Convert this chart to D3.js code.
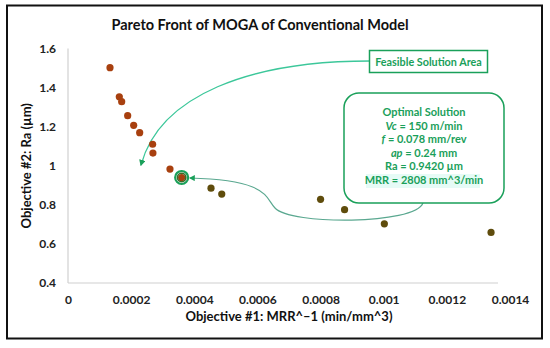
<!DOCTYPE html>
<html>
<head>
<meta charset="utf-8">
<script src="https://cdn.jsdelivr.net/npm/d3@7"></script>
<style>
  body { margin: 0; background: #fff; }
  svg { font-family: Lato, "Open Sans", sans-serif; }
</style>
</head>
<body>
<svg id="chart"></svg>
<script>
// values
const invMRR = [0.000133, 0.0001625, 0.00017, 0.000189, 0.000208, 0.000227, 0.000268, 0.000269, 0.000323, 0.00036, 0.000453, 0.000487, 0.0008, 0.000876, 0.001002, 0.00134];
const raVals = [1.502, 1.353, 1.328, 1.256, 1.207, 1.169, 1.11, 1.065, 0.983, 0.94, 0.885, 0.855, 0.828, 0.775, 0.703, 0.659];
const groups = ["a", "a", "a", "a", "a", "a", "a", "a", "a", "opt", "b", "b", "b", "b", "b", "b"];
const xTicks = [0, 0.0002, 0.0004, 0.0006, 0.0008, 0.001, 0.0012, 0.0014];
const yTicks = [0.4, 0.6, 0.8, 1, 1.2, 1.4, 1.6];
const optLines = ["Optimal Solution", "Vc = 150 m/min", "f = 0.078 mm/rev", "ap = 0.24 mm", "Ra = 0.9420 µm", "MRR = 2808 mm^3/min"];

const width = 550, height = 348;
const plotLeft = 68, plotRight = 510, plotTop = 48.5, plotBottom = 283;
const green = "#1aa05a";

const svg = d3.select("#chart").attr("width", width).attr("height", height);

// outer frame
svg.append("rect")
  .attr("x", 7).attr("y", 5.5).attr("width", 535).attr("height", 333)
  .attr("fill", "none").attr("stroke", "#111").attr("stroke-width", 2);

let x = d3.scaleLinear().domain([0, 0.0014]).range([plotLeft, plotRight]);
let y = d3.scaleLinear().domain([0.4, 1.6]).range([plotBottom, plotTop]);

// axes
let xAxis = d3.axisBottom(x).tickValues(xTicks).tickSize(0).tickPadding(12)
  .tickFormat((d) => d === 0 ? "0" : +d.toFixed(4) + "");
let yAxis = d3.axisLeft(y).tickValues(yTicks).tickSize(0).tickPadding(12)
  .tickFormat((d) => d + "");

let gx = svg.append("g").attr("transform", "translate(0," + plotBottom + ")").call(xAxis);
let gy = svg.append("g").attr("transform", "translate(" + plotLeft + ",0)").call(yAxis);
[gx, gy].forEach((g) => {
  g.select(".domain").attr("stroke", "#d0d0d0").attr("stroke-width", 1.2);
  g.selectAll("text").attr("fill", "#222").attr("font-size", 12).attr("font-weight", "bold")
    .attr("font-family", "Lato, sans-serif");
});
gy.select(".domain").attr("d", "M0," + plotTop + "V" + plotBottom);
gx.select(".domain").attr("d", "M" + plotLeft + ",0H" + (plotRight - 12));

// title and axis labels
svg.append("text")
  .attr("x", 260).attr("y", 30).attr("text-anchor", "middle")
  .attr("font-size", 14.5).attr("font-weight", "bold").attr("fill", "#111")
  .text("Pareto Front of MOGA of Conventional Model");

svg.append("text")
  .attr("x", (plotLeft + plotRight) / 2).attr("y", 321).attr("text-anchor", "middle")
  .attr("font-size", 13).attr("font-weight", "bold").attr("fill", "#111")
  .text("Objective #1: MRR^\u20131 (min/mm^3)");

svg.append("text")
  .attr("transform", "translate(31," + ((plotTop + plotBottom) / 2) + ") rotate(-90)")
  .attr("text-anchor", "middle")
  .attr("font-size", 13).attr("font-weight", "bold").attr("fill", "#111")
  .text("Objective #2: Ra (µm)");

// arrows
let defs = svg.append("defs");
defs.append("marker").attr("id", "arr").attr("viewBox", "0 0 10 10")
  .attr("refX", 8).attr("refY", 5).attr("markerWidth", 5).attr("markerHeight", 5)
  .attr("orient", "auto")
  .append("path").attr("d", "M0,0L10,5L0,10Z").attr("fill", green);

svg.append("path")
  .attr("d", "M370,61 C250,61 160,95 141,165")
  .attr("fill", "none").attr("stroke", "#3cc79a").attr("stroke-width", 1.3)
  .attr("marker-end", "url(#arr)");

svg.append("path")
  .attr("d", "M423,203 C415,225 290,225 275,208 C265,198 270,180 190,178")
  .attr("fill", "none").attr("stroke", "#5aa890").attr("stroke-width", 1.2)
  .attr("marker-end", "url(#arr)");

// feasible box
svg.append("rect")
  .attr("x", 369.5).attr("y", 50.5).attr("width", 118).attr("height", 22)
  .attr("fill", "#fff").attr("stroke", green).attr("stroke-width", 1.5);
svg.append("text")
  .attr("x", 428.5).attr("y", 65.5).attr("text-anchor", "middle")
  .attr("font-size", 10.8).attr("font-weight", "bold").attr("fill", green)
  .text("Feasible Solution Area");

// optimal solution box
svg.append("rect")
  .attr("x", 344).attr("y", 93).attr("width", 160).attr("height", 110).attr("rx", 15)
  .attr("fill", "#fff").attr("stroke", green).attr("stroke-width", 1.5);
svg.append("rect")
  .attr("x", 366).attr("y", 174).attr("width", 114).attr("height", 14)
  .attr("fill", "#e6fbf6");

let italics = { 1: "Vc", 2: "f", 3: "ap" };
optLines.forEach((line, i) => {
  let t = svg.append("text")
    .attr("x", 424).attr("y", 116 + i * 13.5).attr("text-anchor", "middle")
    .attr("font-size", 11).attr("font-weight", "bold").attr("fill", green);
  let it = italics[i];
  if (it) {
    t.append("tspan").attr("font-style", "italic").text(it);
    t.append("tspan").text(line.slice(it.length));
  } else {
    t.text(line);
  }
});

// points
let data = invMRR.map((v, i) => ({ x: v, y: raVals[i], g: groups[i] }));
let colors = { a: "#a8400f", b: "#5f4c0c", opt: "#a8400f" };

svg.selectAll(".dot")
  .data(data)
  .enter()
  .append("circle")
  .attr("class", "dot")
  .attr("cx", (d) => x(d.x))
  .attr("cy", (d) => y(d.y))
  .attr("r", 3.6)
  .attr("fill", (d) => colors[d.g]);

let opt = data.filter((d) => d.g === "opt");
svg.selectAll(".ring")
  .data(opt)
  .enter()
  .append("circle")
  .attr("cx", (d) => x(d.x))
  .attr("cy", (d) => y(d.y))
  .attr("r", 6.5)
  .attr("fill", "none")
  .attr("stroke", green)
  .attr("stroke-width", 2.2);
svg.selectAll(".inner")
  .data(opt)
  .enter()
  .append("circle")
  .attr("cx", (d) => x(d.x))
  .attr("cy", (d) => y(d.y))
  .attr("r", 4.2)
  .attr("fill", "none")
  .attr("stroke", "#3d6b2a")
  .attr("stroke-width", 1.6);
</script>
</body>
</html>
